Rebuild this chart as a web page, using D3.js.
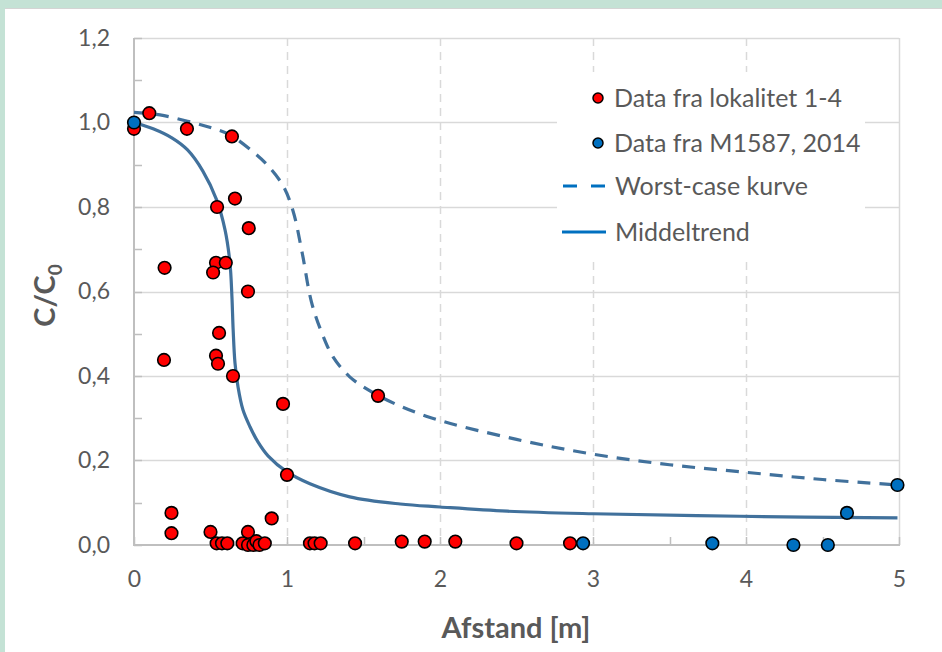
<!DOCTYPE html>
<html>
<head>
<meta charset="utf-8">
<script src="https://cdn.jsdelivr.net/npm/d3@7"></script>
<style>
  html, body { margin: 0; padding: 0; background: #c4e2d5; }
  svg { display: block; }
  text { font-family: Lato, "Open Sans", sans-serif; fill: #595959; }
</style>
</head>
<body>
<svg id="chart" width="942" height="652"></svg>
<script>
// Measured concentrations, site 1-4 (distance m, C/C0)
const siteX = [0, 0.1, 0.346, 0.64, 0.543, 0.66, 0.75, 0.2, 0.536, 0.6, 0.517, 0.745,
  0.556, 0.536, 0.549, 0.647, 0.196, 0.974, 1.595, 1.0, 0.9, 0.245, 0.245, 0.5,
  0.745, 0.54, 0.575, 0.61, 0.71, 0.745, 0.78, 0.8, 0.82, 0.855,
  1.15, 1.18, 1.22, 1.445, 1.75, 1.9, 2.1, 2.5, 2.85];
const siteY = [0.985, 1.022, 0.985, 0.967, 0.80, 0.82, 0.75, 0.656, 0.668, 0.668, 0.645, 0.60,
  0.502, 0.448, 0.429, 0.40, 0.438, 0.334, 0.353, 0.166, 0.063, 0.076, 0.028, 0.031,
  0.031, 0.004, 0.004, 0.004, 0.004, 0.0, 0.0, 0.009, 0.0, 0.004,
  0.004, 0.004, 0.004, 0.004, 0.008, 0.008, 0.008, 0.004, 0.004];

// Earlier data, M1587 (2014)
const m1587X = [0, 2.935, 3.78, 4.31, 4.535, 4.66, 4.99];
const m1587Y = [1.0, 0.004, 0.004, 0.0, 0.0, 0.076, 0.142];

// Worst-case curve
const worstX = [0, 0.17, 0.35, 0.5, 0.63, 0.78, 0.87, 0.975, 1.04, 1.10, 1.16, 1.23, 1.30,
  1.41, 1.59, 1.91, 2.5, 3.0, 3.5, 4.0, 4.5, 5.0];
const worstY = [1.024, 1.018, 1.003, 0.988, 0.97, 0.93, 0.9, 0.85, 0.79, 0.69, 0.575, 0.50, 0.446,
  0.398, 0.355, 0.305, 0.25, 0.215, 0.19, 0.172, 0.155, 0.142];

// Mean trend curve
const meanX = [0, 0.125, 0.25, 0.35, 0.45, 0.54, 0.595, 0.627, 0.64, 0.648, 0.66, 0.68, 0.712,
  0.758, 0.81, 0.876, 1.0, 1.15, 1.41, 1.74, 2.0, 2.44, 3.0, 3.96, 4.99];
const meanY = [1.0, 0.985, 0.963, 0.935, 0.885, 0.817, 0.746, 0.668, 0.588, 0.51, 0.431, 0.374, 0.32,
  0.28, 0.244, 0.211, 0.173, 0.145, 0.114, 0.097, 0.09, 0.08, 0.074, 0.068, 0.064];

const xTicks = [0, 1, 2, 3, 4, 5];
const yTicks = [0, 0.2, 0.4, 0.6, 0.8, 1.0, 1.2];
const legendLabels = ["Data fra lokalitet 1-4", "Data fra M1587, 2014", "Worst-case kurve", "Middeltrend"];

const svg = d3.select("#chart");
const W = 942, H = 652;

// white panel inside the green frame
svg.append("rect").attr("x", 5).attr("y", 8).attr("width", W - 5).attr("height", H - 8)
  .attr("fill", "#ffffff");
svg.append("line").attr("x1", 5).attr("x2", W).attr("y1", 8.5).attr("y2", 8.5)
  .attr("stroke", "#d4d4d4").attr("stroke-width", 1);

const pL = 134, pR = 899, pT = 38, pB = 545;
const x = d3.scaleLinear().domain([0, 5]).range([pL, pR]);
const y = d3.scaleLinear().domain([0, 1.2]).range([pB, pT]);
const comma = d3.formatLocale({ decimal: ",", thousands: ".", grouping: [3], currency: ["", ""] });
const fmtY = comma.format(".1f");

const grid = svg.append("g");
// horizontal gridlines
grid.selectAll("line.h").data(yTicks.filter(d => d > 0)).join("line")
  .attr("x1", pL).attr("x2", pR)
  .attr("y1", d => Math.round(y(d)) + 0.5).attr("y2", d => Math.round(y(d)) + 0.5)
  .attr("stroke", "#d9d9d9").attr("stroke-width", 1.5);
// vertical dashed gridlines
grid.selectAll("line.v").data(xTicks.filter(d => d > 0 && d < 5)).join("line")
  .attr("x1", d => Math.round(x(d)) + 0.5).attr("x2", d => Math.round(x(d)) + 0.5)
  .attr("y1", pT).attr("y2", pB)
  .attr("stroke", "#d9d9d9").attr("stroke-width", 1.5).attr("stroke-dasharray", "8,6");
// right border
grid.append("line").attr("x1", pR + 0.5).attr("x2", pR + 0.5).attr("y1", pT).attr("y2", pB)
  .attr("stroke", "#d9d9d9").attr("stroke-width", 1.5);

// minor ticks inside the plot
const yMinor = d3.range(0, 13).map(i => i / 10);
svg.append("g").selectAll("line").data(yMinor).join("line")
  .attr("x1", pL).attr("x2", pL + 8)
  .attr("y1", d => Math.round(y(d)) + 0.5).attr("y2", d => Math.round(y(d)) + 0.5)
  .attr("stroke", "#bfbfbf").attr("stroke-width", 1.5);
const xMinor = d3.range(0, 11).map(i => i / 2);
svg.append("g").selectAll("line").data(xMinor).join("line")
  .attr("x1", d => Math.round(x(d)) + 0.5).attr("x2", d => Math.round(x(d)) + 0.5)
  .attr("y1", pB).attr("y2", pB - 8)
  .attr("stroke", "#bfbfbf").attr("stroke-width", 1.5);

// axis lines
svg.append("line").attr("x1", pL).attr("x2", pL).attr("y1", pT).attr("y2", pB + 1)
  .attr("stroke", "#bfbfbf").attr("stroke-width", 2);
svg.append("line").attr("x1", pL - 1).attr("x2", pR + 1).attr("y1", pB).attr("y2", pB)
  .attr("stroke", "#bfbfbf").attr("stroke-width", 2);

// axes (labels only)
const yAxis = svg.append("g").attr("transform", `translate(${pL},0)`)
  .call(d3.axisLeft(y).tickValues(yTicks).tickFormat(fmtY).tickSize(0).tickPadding(24));
const xAxis = svg.append("g").attr("transform", `translate(0,${pB})`)
  .call(d3.axisBottom(x).tickValues(xTicks).tickFormat(d3.format("d")).tickSize(0).tickPadding(26));
[yAxis, xAxis].forEach(a => {
  a.select(".domain").remove();
  a.selectAll("text").style("font-size", "23px").style("fill", "#595959")
    .style("font-family", "Lato, 'Open Sans', sans-serif");
});

// axis titles
svg.append("text").attr("x", 516).attr("y", 638)
  .attr("text-anchor", "middle").style("font-size", "29px").style("font-weight", "bold")
  .text("Afstand [m]");
const yt = svg.append("text").attr("transform", `translate(55,${(pT + pB) / 2 + 4}) rotate(-90)`)
  .attr("text-anchor", "middle").style("font-size", "29px").style("font-weight", "bold");
yt.append("tspan").text("C/C");
yt.append("tspan").attr("dy", 7).style("font-size", "19px").text("0");

// legend background
svg.append("rect").attr("x", 557).attr("y", 72).attr("width", 308).attr("height", 190)
  .attr("fill", "#ffffff");

// curves
const line = d3.line().x(d => x(d[0])).y(d => y(d[1])).curve(d3.curveCatmullRom.alpha(0.5));
const curveColor = "#41719c";
svg.append("path").datum(d3.zip(worstX, worstY)).attr("d", line)
  .attr("fill", "none").attr("stroke", curveColor).attr("stroke-width", 3.2)
  .attr("stroke-dasharray", "13,9");
svg.append("path").datum(d3.zip(meanX, meanY)).attr("d", line)
  .attr("fill", "none").attr("stroke", curveColor).attr("stroke-width", 3.2);

// markers
function dots(xs, ys, color) {
  svg.append("g").selectAll("circle").data(d3.zip(xs, ys)).join("circle")
    .attr("cx", d => x(d[0])).attr("cy", d => y(d[1])).attr("r", 6.3)
    .attr("fill", color).attr("stroke", "#000").attr("stroke-width", 1.6);
}
dots(siteX, siteY, "#ff0000");
dots(m1587X, m1587Y, "#0070c0");

// legend
const lg = svg.append("g");
const rowY = [98, 143, 186, 232];
lg.append("circle").attr("cx", 598).attr("cy", rowY[0]).attr("r", 5)
  .attr("fill", "#ff0000").attr("stroke", "#000").attr("stroke-width", 1.5);
lg.append("circle").attr("cx", 598).attr("cy", rowY[1]).attr("r", 5)
  .attr("fill", "#0070c0").attr("stroke", "#000").attr("stroke-width", 1.5);
lg.append("line").attr("x1", 563).attr("x2", 606).attr("y1", rowY[2]).attr("y2", rowY[2])
  .attr("stroke", "#0070c0").attr("stroke-width", 3.2).attr("stroke-dasharray", "14,14");
lg.append("line").attr("x1", 562).attr("x2", 606).attr("y1", rowY[3]).attr("y2", rowY[3])
  .attr("stroke", "#0070c0").attr("stroke-width", 3.2);
lg.selectAll("text").data(legendLabels).join("text")
  .attr("x", (d, i) => i < 2 ? 614 : 615).attr("y", (d, i) => rowY[i] + 9)
  .style("font-size", "25px").text(d => d);
</script>
</body>
</html>
